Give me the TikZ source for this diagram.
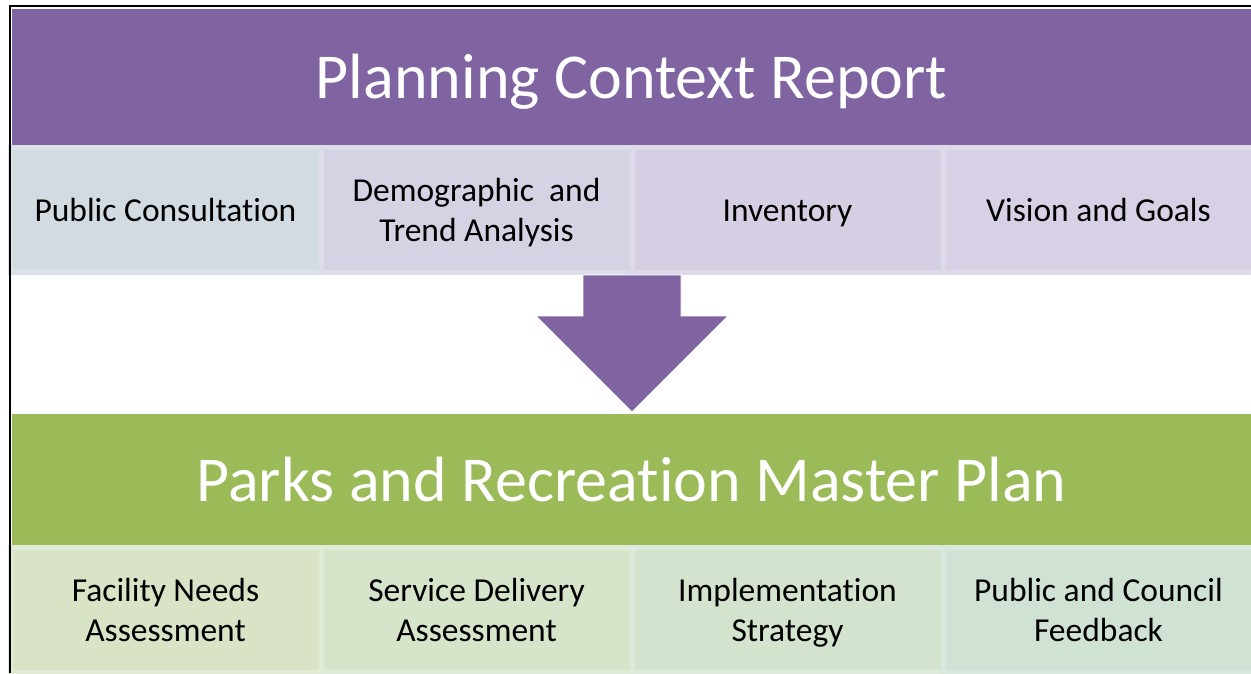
\documentclass[tikz,border=0pt]{standalone}
\usepackage{fontspec}
\setmainfont{Carlito}[Ligatures=CommonOff]
\definecolor{plum}{HTML}{8064A2}
\definecolor{leaf}{HTML}{9BBB59}
\definecolor{topA}{HTML}{D2DBE2}
\definecolor{topAline}{HTML}{DCE3E8}
\definecolor{topB}{HTML}{D3D3E3}
\definecolor{topBline}{HTML}{DDDDEA}
\definecolor{topC}{HTML}{D6CFE3}
\definecolor{topCline}{HTML}{DEDAEA}
\definecolor{topD}{HTML}{D8D0E4}
\definecolor{topDline}{HTML}{DFDAEA}
\definecolor{lowA}{HTML}{D9E4C6}
\definecolor{lowAline}{HTML}{E2EBD5}
\definecolor{lowB}{HTML}{D6E4CA}
\definecolor{lowBline}{HTML}{DFEAD7}
\definecolor{lowC}{HTML}{D3E3CE}
\definecolor{lowCline}{HTML}{DCE9DB}
\definecolor{lowD}{HTML}{D0E2D3}
\definecolor{lowDline}{HTML}{D9E8DF}
% strut that keeps the capitals of each line centred
\newcommand{\capline}{\rule[-8pt]{0pt}{39pt}}
% break the t-i ligature
\newcommand{\nolig}{\kern0pt }

\begin{document}
\begin{tikzpicture}[x=1pt,y=-1pt,node distance=311pt,band/.style={rectangle,inner sep=0pt,outer sep=0pt,minimum width=1239pt,text=white,font=\fontsize{64}{70}\selectfont,text height=41pt,text depth=0pt},box/.style={rectangle,inner sep=0pt,outer sep=0pt,minimum width=311pt,minimum height=125pt,line width=5pt,align=center,font=\fontsize{33.5}{38}\selectfont}]

                \useasboundingbox (0,0) rectangle (1251,673);

                \node (1) [band,fill=plum,minimum height=138pt] at (631.5,78) {Planning Context Report};

                \node (2) [box,fill=topA,draw=topAline] at (165.5,210) {\capline Public Consultat\nolig ion};
                \node (3) [box,fill=topB,draw=topBline,right of=2] {\capline Demographic\ \ and\\\capline Trend Analysis};
                \node (4) [box,fill=topC,draw=topCline,right of=3] {\capline Inventory};
                \node (5) [box,fill=topD,draw=topDline,right of=4] {\capline Vision and Goals};

                \node (6) [band,fill=leaf,minimum height=133pt] at (631.5,480.5) {Parks and Recreat\nolig ion Master Plan};

                \node (7) [box,fill=lowA,draw=lowAline] at (165.5,610) {\capline Facility Needs\\\capline Assessment};
                \node (8) [box,fill=lowB,draw=lowBline,right of=7] {\capline Service Delivery\\\capline Assessment};
                \node (9) [box,fill=lowC,draw=lowCline,right of=8] {\capline Implementat\nolig ion\\\capline Strategy};
                \node (10) [box,fill=lowD,draw=lowDline,right of=9] {\capline Public and Council\\\capline Feedback};

                % big arrow from the report down to the plan
                \coordinate (top) at (632,275);
                \coordinate (tip) at (632,412);
                \filldraw[plum,draw=white,line width=0.8pt] (top) ++(-49,0) -- ++(98,0) -- ++(0,41) -- ++(47,0) -- (tip) -- ++(-96,-96) -- ++(47,0) -- cycle;

                \draw[line width=1.5pt] (10,673) -- (10,6) -- (1251,6);
\end{tikzpicture}
\end{document}
